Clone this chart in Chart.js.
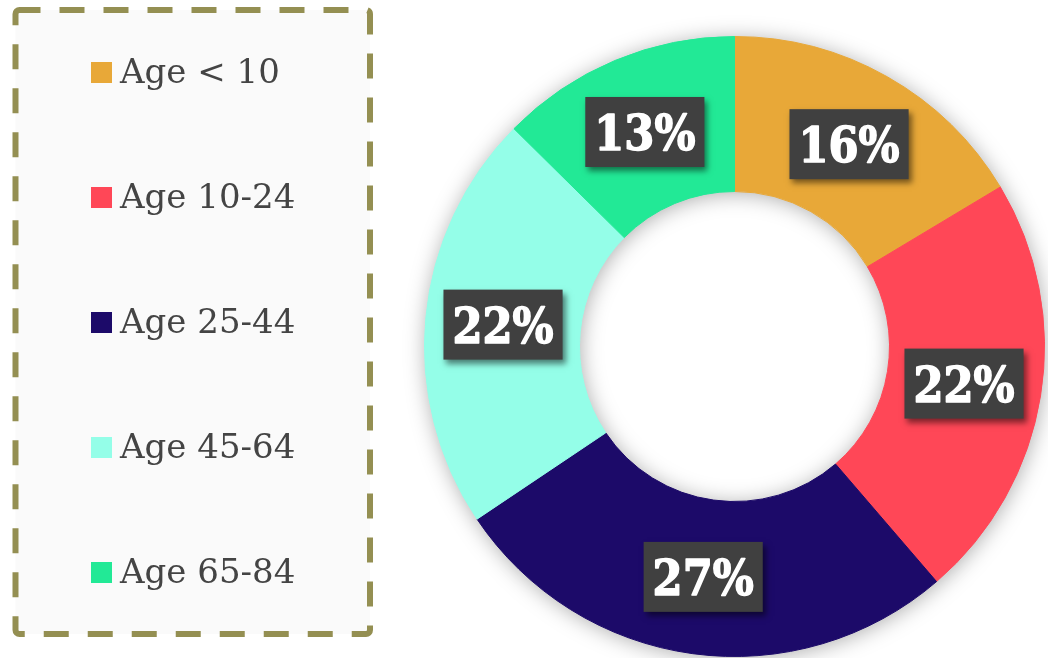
<!DOCTYPE html>
<html lang="en">
<head>
  <meta charset="UTF-8">
  <title>Age groups</title>
  <script src="https://cdn.jsdelivr.net/npm/chart.js"></script>
  <style>
    html, body { margin: 0; padding: 0; background: #fff; overflow: hidden; }
    #wrap { position: relative; width: 1048px; height: 658px; }
    #chart { position: absolute; left: 0; top: 0; }
    #frame { position: absolute; left: 0; top: 0; }
    #legend { position: absolute; left: 0; top: 0; width: 380px; height: 658px;
              font-family: "DejaVu Serif", serif; font-size: 34px; color: #444; }
    .item { position: absolute; left: 91px; line-height: 34px; white-space: nowrap; }
    .sw { display: inline-block; width: 21px; height: 21px; margin-right: 8px; }
  </style>
</head>
<body>
  <div id="wrap">
    <canvas id="chart" width="1048" height="658"></canvas>
    <svg id="frame" width="380" height="658">
      <rect x="15.5" y="10" width="354.5" height="624" rx="4" ry="4"
            fill="#fafafa" stroke="#948f52" stroke-width="6"
            stroke-dasharray="25 19" stroke-dashoffset="4"></rect>
    </svg>
    <div id="legend"></div>
  </div>

  <script>
    // data
    const labels = ['Age < 10', 'Age 10-24', 'Age 25-44', 'Age 45-64', 'Age 65-84'];
    const values = [16.4, 22.3, 26.9, 21.8, 12.6];
    const colors = ['#e8a838', '#ff4757', '#1c0a69', '#94fee8', '#22e996'];

    // soft shadow behind the whole ring
    const ringShadow = {
      id: 'ringShadow',
      beforeDatasetsDraw(chart) {
        const arc = chart.getDatasetMeta(0).data[0];
        if (!arc) return;
        const { x, y, outerRadius, innerRadius } = arc.getProps(['x', 'y', 'outerRadius', 'innerRadius'], true);
        const ctx = chart.ctx;
        ctx.save();
        ctx.shadowColor = 'rgba(0,0,0,0.35)';
        ctx.shadowBlur = 22;
        ctx.shadowOffsetX = 1;
        ctx.shadowOffsetY = 2;
        ctx.fillStyle = '#ffffff';
        ctx.beginPath();
        ctx.arc(x, y, outerRadius - 1, 0, Math.PI * 2);
        ctx.arc(x, y, innerRadius + 1, Math.PI * 2, 0, true);
        ctx.fill('evenodd');
        ctx.restore();
      }
    };

    // dark percentage boxes on each slice
    const boxLabels = {
      id: 'boxLabels',
      afterDatasetsDraw(chart) {
        const ctx = chart.ctx;
        const ds = chart.data.datasets[0].data;
        const total = ds.reduce((a, b) => a + b, 0);
        ctx.save();
        ctx.font = 'bold 48px "DejaVu Serif Condensed", "DejaVu Serif", serif';
        chart.getDatasetMeta(0).data.forEach((arc, i) => {
          const p = arc.getCenterPoint();
          const txt = Math.round(ds[i] / total * 100) + '%';
          const w = ctx.measureText(txt).width + 18;
          const h = 70;
          ctx.save();
          ctx.shadowColor = 'rgba(0,0,0,0.5)';
          ctx.shadowBlur = 6;
          ctx.shadowOffsetX = 3;
          ctx.shadowOffsetY = 4;
          ctx.fillStyle = '#404040';
          ctx.fillRect(p.x - w / 2, p.y - h / 2, w, h);
          ctx.restore();
          ctx.fillStyle = '#ffffff';
          ctx.strokeStyle = '#ffffff';
          ctx.lineWidth = 1.4;
          ctx.lineJoin = 'round';
          ctx.textAlign = 'center';
          ctx.textBaseline = 'alphabetic';
          ctx.fillText(txt, p.x, p.y + 18);
          ctx.strokeText(txt, p.x, p.y + 18);
        });
        ctx.restore();
      }
    };

    const ctx = document.getElementById('chart').getContext('2d');
    const chart = new Chart(ctx, {
      type: 'doughnut',
      data: {
        labels: labels,
        datasets: [{
          data: values,
          backgroundColor: colors,
          borderColor: colors,
          borderWidth: 1,
          hoverOffset: 0
        }]
      },
      options: {
        responsive: false,
        animation: false,
        cutout: '50%',
        layout: { padding: { left: 424, right: 3, top: 36, bottom: 1 } },
        plugins: {
          legend: { display: false },
          tooltip: { enabled: false }
        }
      },
      plugins: [ringShadow, boxLabels]
    });

    // html legend built from the same arrays
    const legend = document.getElementById('legend');
    labels.forEach((lab, i) => {
      const row = document.createElement('div');
      row.className = 'item';
      row.style.top = (54 + 125 * i) + 'px';
      const sw = document.createElement('span');
      sw.className = 'sw';
      sw.style.background = colors[i];
      row.appendChild(sw);
      row.appendChild(document.createTextNode(lab));
      legend.appendChild(row);
    });
  </script>
</body>
</html>
